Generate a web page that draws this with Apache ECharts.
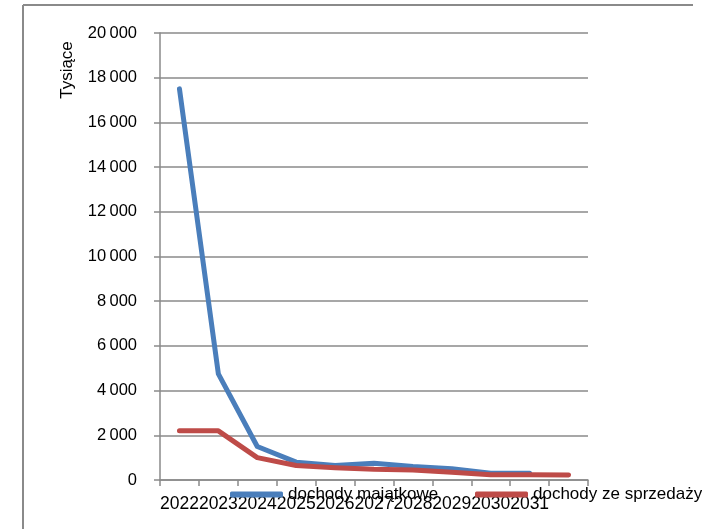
<!DOCTYPE html>
<html>
<head>
<meta charset="utf-8">
<script src="https://cdn.jsdelivr.net/npm/echarts@6/dist/echarts.min.js"></script>
<style>
html,body{margin:0;padding:0;background:#fff;}
#chart{width:702px;height:529px;}
</style>
</head>
<body>
<div id="chart"></div>
<script>
const categories = ['2022','2023','2024','2025','2026','2027','2028','2029','2030','2031',''];
const seriesNames = ['dochody majątkowe', 'dochody ze sprzedaży majątku'];
const dochodyMajatkowe = [17500, 4750, 1500, 800, 650, 750, 600, 500, 300, 300, null];
const dochodySprzedaz = [2200, 2200, 1000, 650, 550, 480, 450, 350, 230, 230, 220];
const yTicks = [0, 2000, 4000, 6000, 8000, 10000, 12000, 14000, 16000, 18000, 20000];
const yAxisTitle = 'Tysiące';

const FONT = "'Liberation Sans', Arial, sans-serif";
const chart = echarts.init(document.getElementById('chart'), null, {renderer: 'canvas'});
const gray = '#8a8a8a';
const legendText = {color: '#000', fontSize: 17, fontFamily: FONT};
chart.setOption({
  animation: false,
  backgroundColor: '#fff',
  textStyle: {fontFamily: FONT},
  grid: {left: 160, right: 114, top: 33, bottom: 49, containLabel: false},
  xAxis: {
    type: 'category',
    data: categories,
    boundaryGap: true,
    axisLine: {lineStyle: {color: gray, width: 1.5}},
    axisTick: {show: true, length: 6, interval: 0, lineStyle: {color: gray, width: 1.5}},
    axisLabel: {interval: 0, color: '#000', fontSize: 17.5, fontFamily: FONT, margin: 15}
  },
  yAxis: {
    type: 'value',
    min: yTicks[0],
    max: yTicks[yTicks.length - 1],
    interval: yTicks[1] - yTicks[0],
    axisLine: {show: true, lineStyle: {color: gray, width: 1.5}},
    axisTick: {show: true, length: 6, lineStyle: {color: gray, width: 1.5}},
    splitLine: {show: true, lineStyle: {color: gray, width: 1.5}},
    axisLabel: {
      color: '#000', fontSize: 16.5, fontFamily: FONT, margin: 23,
      formatter: v => String(v).replace(/\B(?=(\d{3})+(?!\d))/g, '\u2009')
    }
  },
  legend: [
    {
      data: [seriesNames[0]], left: 230, top: 486, padding: 0, icon: 'roundRect',
      itemWidth: 53, itemHeight: 6, itemGap: 0, textStyle: legendText
    },
    {
      data: [seriesNames[1]], left: 475, top: 486, padding: 0, icon: 'roundRect',
      itemWidth: 53, itemHeight: 6, itemGap: 0, textStyle: legendText
    }
  ],
  series: [
    {
      name: seriesNames[0], type: 'line', data: dochodyMajatkowe,
      symbol: 'none', smooth: false, color: '#4a7ebb',
      lineStyle: {width: 5, color: '#4a7ebb', cap: 'round', join: 'round'}
    },
    {
      name: seriesNames[1], type: 'line', data: dochodySprzedaz,
      symbol: 'none', smooth: false, color: '#be4b48',
      lineStyle: {width: 5, color: '#be4b48', cap: 'round', join: 'round'}
    }
  ],
  graphic: [
    {type: 'line', shape: {x1: 23, y1: 5, x2: 693, y2: 5}, style: {stroke: gray, lineWidth: 2}, z: 100},
    {type: 'line', shape: {x1: 23, y1: 5, x2: 23, y2: 529}, style: {stroke: gray, lineWidth: 2}, z: 100},
    {type: 'text', x: 59, y: 70, rotation: Math.PI / 2,
     style: {text: yAxisTitle, fill: '#000', font: "17px 'Liberation Sans', Arial, sans-serif", align: 'center', verticalAlign: 'top'}}
  ]
});
</script>
</body>
</html>
